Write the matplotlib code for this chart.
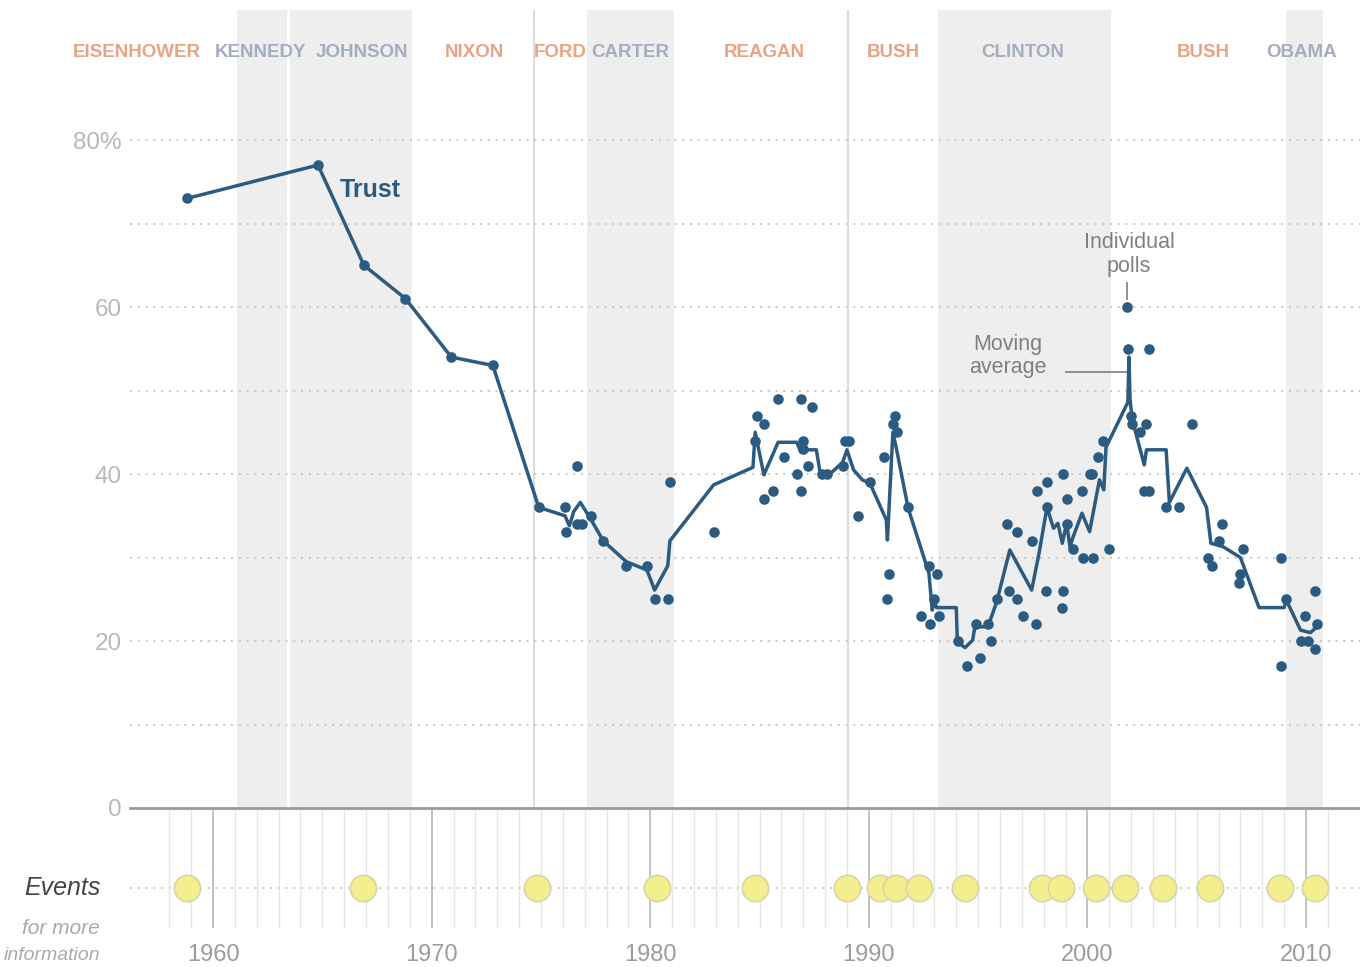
import numpy as np
import matplotlib
matplotlib.use('Agg')
import matplotlib.pyplot as plt

plt.rcParams['font.family'] = ['Liberation Sans', 'DejaVu Sans']

# presidents across the top
presidents = ['EISENHOWER', 'KENNEDY', 'JOHNSON', 'NIXON', 'FORD', 'CARTER',
              'REAGAN', 'BUSH', 'CLINTON', 'BUSH', 'OBAMA']
president_party = ['R', 'D', 'D', 'R', 'R', 'D', 'R', 'R', 'D', 'R', 'D']
president_label_x = [1956.5, 1962.15, 1966.8, 1971.95, 1975.9, 1979.1,
                     1985.2, 1991.1, 1997.05, 2005.3, 2009.8]

# democratic terms (shaded) and same-party handovers (thin lines)
dem_start = [1961.1, 1977.1, 1993.15, 2009.1]
dem_end = [1969.1, 1981.1, 2001.1, 2010.8]
handover = [1974.7, 1989.05]
kennedy_johnson = 1963.45

# moving average of trust in government
avg_year = [1958.8, 1964.8, 1966.9, 1968.8, 1970.9, 1972.8, 1974.9,
            1976.1, 1976.3, 1976.5, 1976.8, 1977.3, 1977.85, 1978.9, 1979.85,
            1980.2, 1980.8, 1980.9, 1982.9, 1984.7, 1984.8, 1985.2, 1985.85,
            1986.7, 1986.9, 1987.0, 1987.2, 1987.6, 1987.8, 1988.1, 1988.8,
            1989.0, 1989.3, 1989.7, 1990.05, 1990.8, 1990.85, 1991.1, 1991.25,
            1991.8, 1992.75, 1992.9, 1993.0, 1993.1, 1994.0, 1994.05, 1994.4,
            1994.75, 1994.85, 1995.45, 1995.85, 1996.45, 1997.45, 1997.8,
            1998.15, 1998.45, 1998.65, 1998.85, 1999.05, 1999.2, 1999.35,
            1999.75, 2000.1, 2000.55, 2000.75, 2000.85, 2001.85, 2001.9,
            2001.95, 2002.05, 2002.6, 2002.7, 2003.6, 2003.75, 2004.55,
            2005.45, 2005.65, 2006.2, 2007.0, 2007.85, 2009.0, 2009.1,
            2009.75, 2010.2, 2010.5]
avg_value = [73, 77, 65, 61, 54, 53, 36,
             35, 33.8, 35.5, 36.6, 34.5, 32, 29.5, 28.5,
             26.1, 29, 32, 38.7, 40.8, 45, 39.9, 43.8,
             43.8, 42.6, 43.7, 42.9, 42.9, 39.7, 39.7, 41.4,
             42.9, 40.5, 39.3, 38.9, 34.5, 32.1, 45, 43.2,
             35.9, 28.1, 23.7, 24.7, 24, 24, 19.9, 19.2,
             20.1, 21.7, 21.7, 24.7, 30.9, 26.1, 30.7,
             36, 33.5, 34.1, 31.7, 34.1, 31.3, 32.5,
             35.3, 33.1, 39.3, 38.1, 43.2, 48.6, 54,
             48.9, 46.5, 41.1, 42.9, 42.9, 36.6, 40.7,
             36, 31.7, 31.3, 30, 24, 24, 24.9,
             21.3, 21, 21.7]

# individual polls
poll_year = [1958.8, 1964.8, 1966.9, 1968.8, 1970.9, 1972.8, 1974.9,
             1976.1, 1976.15, 1976.65, 1976.65, 1976.9, 1977.3, 1977.85,
             1978.9, 1979.85, 1980.2, 1980.8, 1980.9, 1982.9,
             1984.9, 1985.2, 1984.8, 1985.2, 1985.6, 1985.85, 1986.9, 1987.4,
             1986.1, 1986.7, 1986.9, 1987.2, 1987.0, 1987.0, 1987.85, 1988.1,
             1988.9, 1989.1, 1988.8, 1990.05, 1989.5, 1990.7, 1990.9, 1990.85,
             1991.2, 1991.1, 1991.3, 1991.8, 1992.75, 1993.1, 1992.4, 1992.8,
             1993.2, 1993.0,
             1994.1, 1994.5, 1995.1, 1994.9, 1995.45, 1995.6, 1995.85, 1996.4,
             1996.3, 1996.8, 1996.8, 1997.05, 1997.65, 1997.45, 1997.7,
             1998.15, 1998.1, 1998.15, 1998.9, 1999.05, 1998.9, 1998.85,
             1999.05, 1999.35, 1999.75, 1999.8, 2000.25, 2000.1, 2000.5,
             2000.7, 2001.0, 2000.2,
             2001.8, 2001.85, 2002.8, 2002.0, 2002.05, 2002.7, 2002.4, 2002.6,
             2002.8, 2003.6, 2004.2, 2004.8, 2005.5, 2005.7, 2006.15, 2006.0,
             2007.1, 2007.0, 2006.95, 2008.85, 2009.1, 2008.85, 2009.95,
             2009.75, 2010.4, 2010.5, 2010.4, 2010.1]
poll_value = [73, 77, 65, 61, 54, 53, 36,
              36, 33, 41, 34, 34, 35, 32,
              29, 29, 25, 25, 39, 33,
              47, 46, 44, 37, 38, 49, 49, 48,
              42, 40, 38, 41, 44, 43, 40, 40,
              44, 44, 41, 39, 35, 42, 28, 25,
              47, 46, 45, 36, 29, 28, 23, 22,
              23, 25,
              20, 17, 18, 22, 22, 20, 25, 26,
              34, 33, 25, 23, 22, 32, 38,
              39, 26, 36, 40, 37, 26, 24,
              34, 31, 38, 30, 30, 40, 42,
              44, 31, 40,
              60, 55, 55, 47, 46, 46, 45, 38,
              38, 36, 36, 46, 30, 29, 34, 32,
              31, 28, 27, 30, 25, 17, 23,
              20, 26, 22, 19, 20]

# key events
event_year = [1958.8, 1966.85, 1974.8, 1980.3, 1984.8, 1989.0, 1990.5,
              1991.25, 1992.3, 1994.4, 1997.9, 1998.8, 2000.4, 2001.7,
              2003.45, 2005.6, 2008.8, 2010.4]

year_ticks = [1960, 1970, 1980, 1990, 2000, 2010]

blue = '#2b5b80'
rep_col = '#e9a283'
dem_col = '#a3adbf'

fig = plt.figure(figsize=(13.6, 9.67), dpi=100)
W, H = 1360.0, 967.0
ax = fig.add_axes([130 / W, (H - 808) / H, 1230 / W, 798 / H])
x0, x1 = 1956.2, 2012.47
ax.set_xlim(x0, x1)
ax.set_ylim(0, 95.57)

for s, e in zip(dem_start, dem_end):
    ax.axvspan(s, e, color='#eeeeee', lw=0, zorder=0)
ax.axvline(kennedy_johnson, color='white', lw=2, zorder=0.5)
for h in handover:
    ax.axvline(h, color='#dddddd', lw=1.5, zorder=0.5)

for g in range(10, 90, 10):
    ax.axhline(g, color='#c8c8c8', lw=1.4, ls=(0, (1, 3)), zorder=1)
ax.axhline(0, color='#9a9a9a', lw=2, zorder=3, clip_on=False)

ax.plot(avg_year, avg_value, color=blue, lw=2.5, zorder=4, solid_joinstyle='round')
ax.scatter(poll_year, poll_value, s=58, color=blue, lw=0, zorder=5)

for name, party, px in zip(presidents, president_party, president_label_x):
    ax.text(px, 90.5, name, ha='center', va='center', fontsize=13.5,
            fontweight='bold', color=rep_col if party == 'R' else dem_col)

ax.text(1965.8, 74.0, 'Trust', fontsize=18, fontweight='bold', color=blue,
        va='center', ha='left')
ax.text(2001.9, 66.3, 'Individual\npolls', fontsize=15.5, color='#808080',
        ha='center', va='center', linespacing=1.15)
ax.plot([2001.81, 2001.81], [61.0, 62.9], color='#888888', lw=1.3)
ax.text(1996.37, 54.1, 'Moving\naverage', fontsize=15.5, color='#808080',
        ha='center', va='center', linespacing=1.15)
ax.plot([1999.0, 2001.8], [52.2, 52.2], color='#888888', lw=1.3)

ax.set_yticks([0, 20, 40, 60, 80])
ax.set_yticklabels(['0', '20', '40', '60', '80%'])
ax.tick_params(axis='y', length=0, pad=6, labelsize=17.5, labelcolor='#b8b8b8')
ax.set_xticks([])
for sp in ax.spines.values():
    sp.set_visible(False)

# events strip
ax2 = fig.add_axes([130 / W, (H - 928) / H, 1230 / W, 118 / H])
ax2.set_xlim(x0, x1)
ax2.set_ylim(0, 1)
for yr in range(1958, 2012):
    if yr % 10 == 0:
        ax2.axvline(yr, color='#bdbdbd', lw=1.3, zorder=0)
    else:
        ax2.axvline(yr, color='#e6e6e6', lw=1.0, zorder=0)
ax2.axhline(0.34, color='#cccccc', lw=1.4, ls=(0, (1, 3)), zorder=1)
ax2.scatter(event_year, [0.34] * len(event_year), s=360, color='#f3ee8e',
            edgecolor='#d9d5a6', lw=1.2, zorder=3)
for yr in year_ticks:
    ax2.text(yr, -0.23, str(yr), ha='center', va='center', fontsize=17,
             color='#9c9c9c', transform=ax2.get_xaxis_transform())
ax2.axis('off')

fig.text(101 / W, (H - 888) / H, 'Events', ha='right', va='center',
         fontsize=18, style='italic', color='#444444')
fig.text(100 / W, (H - 928) / H, 'for more', ha='right', va='center',
         fontsize=15, style='italic', color='#aaaaaa')
fig.text(100 / W, (H - 955) / H, 'information', ha='right', va='center',
         fontsize=14, style='italic', color='#aaaaaa')

fig.savefig('out.png', dpi=100)
